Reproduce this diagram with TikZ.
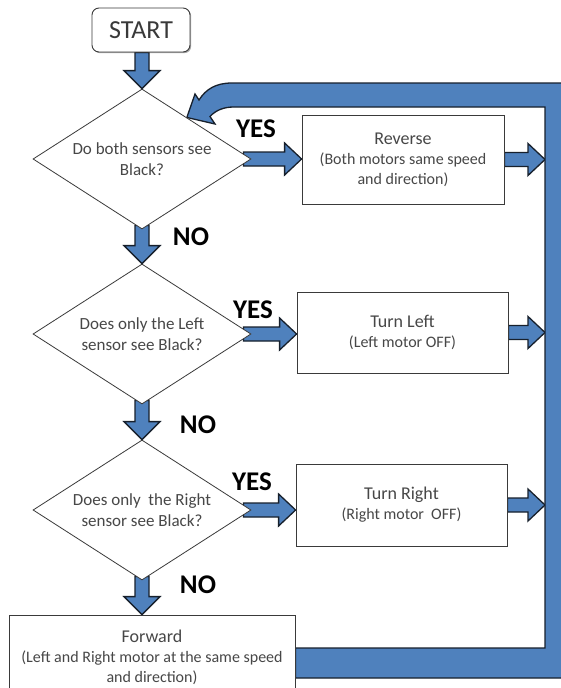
\documentclass[tikz,border=0pt]{standalone}
\usepackage{fontspec}
\setmainfont{Carlito}
\usetikzlibrary{shapes.geometric,calc,shadows}
\pgfdeclarelayer{background}
\pgfsetlayers{background,main}
\definecolor{ablue}{HTML}{4F81BD}
\definecolor{aline}{HTML}{17202C}
\definecolor{boxline}{HTML}{3A3A3A}
\definecolor{txt}{HTML}{474747}
\newcommand\vblk[2]{\path[blockarrow] let \p1=(#1), \p2=(#2) in
  (\x2,\y2) -- (\x2-18pt,\y2+18pt) -- (\x2-7pt,\y2+18pt) -- (\x2-7pt,\y1)
  -- (\x2+7pt,\y1) -- (\x2+7pt,\y2+18pt) -- (\x2+18pt,\y2+18pt) -- cycle;}
\newcommand\hblk[2]{\path[blockarrow] let \p1=(#1), \p2=(#2) in
  (\x2,\y2) -- (\x2-17pt,\y2+16pt) -- (\x2-17pt,\y2+7pt) -- (\x1,\y2+7pt)
  -- (\x1,\y2-7pt) -- (\x2-17pt,\y2-7pt) -- (\x2-17pt,\y2-16pt) -- cycle;}
\begin{document}
\begin{tikzpicture}[x=1pt,y=-1pt,
  blockarrow/.style={fill=ablue, draw=aline, line width=1.3pt, line join=miter},
  box/.style={rectangle, draw=boxline, line width=0.8pt, fill=white, inner sep=0pt,
    text=txt, align=center, font=\fontsize{16}{20}\selectfont,
    drop shadow={shadow xshift=1.2pt, shadow yshift=-1.2pt, opacity=0.35, fill=black}},
  dec/.style={diamond, draw=boxline, line width=0.8pt, fill=white, inner sep=0pt,
    shape aspect=1.56, minimum width=218pt, minimum height=140pt,
    text=txt, align=center, font=\fontsize{17}{21}\selectfont},
  startbox/.style={rectangle, rounded corners=7pt, draw=boxline, line width=0.9pt,
    fill=white, minimum width=98pt, minimum height=44pt, inner sep=0pt,
    text=txt!80!black, font=\fontsize{26}{30}\selectfont,
    drop shadow={shadow xshift=1.2pt, shadow yshift=-1.2pt, opacity=0.35, fill=black}},
  yesno/.style={font=\bfseries\fontsize{27}{30}\selectfont, text=black, inner sep=0pt}]
\useasboundingbox (0,0) rectangle (561,688);

% nodes
\node[startbox] (start) at (141,30) {START};
\node[dec] (d1) at (142,159) {Do both sensors see\\Black?};
\node[dec] (d2) at (142,334) {Does only the Left\\sensor see Black?};
\node[dec] (d3) at (142,510) {Does only\ \ the Right\\sensor see Black?};
\node[box, minimum width=202pt, minimum height=89pt] (rev) at (403,159.5)
  {{\fontsize{18}{20}\selectfont Reverse}\\(Both motors same speed\\and direction)};
\node[box, minimum width=211pt, minimum height=81pt] (tl) at (402.5,332.5)
  {{\fontsize{18}{20}\selectfont Turn Left}\\(Left motor OFF)};
\node[box, minimum width=211pt, minimum height=82pt] (tr) at (401.5,505)
  {{\fontsize{18}{20}\selectfont Turn Right}\\(Right motor\ \ OFF)};
\node[box, minimum width=286pt, minimum height=84pt] (fwd) at (152,657)
  {{\fontsize{18}{20}\selectfont Forward}\\(Left and Right motor at the same speed\\and direction)};

\node[yesno] (y1) at (256,128.5) {YES};
\node[yesno] (y2) at (253,309.5) {YES};
\node[yesno] (y3) at (252,482) {YES};
\node[yesno] (n1) at (191,237) {NO};
\node[yesno] (n2) at (198,425) {NO};
\node[yesno] (n3) at (198,585) {NO};

\coordinate (barin) at (545,107);
\coordinate (ltip) at ($(d1.north)!0.41!(d1.east)$);
\path (fwd.east) ++(0,-9) coordinate (lbt) ++(0,30) coordinate (lbb);

\begin{pgfonlayer}{background}
  \fill[white] (0,0) rectangle (561,688);
  % vertical arrows
  \vblk{start.south}{d1.north}
  \vblk{$(d1.south)+(0,-4)$}{d2.north}
  \vblk{$(d2.south)+(0,-4)$}{d3.north}
  \vblk{$(d3.south)+(0,-4)$}{d3.south |- fwd.north}
  % YES arrows
  \hblk{$(d1.east)+(-8,0)$}{rev.west |- d1.east}
  \hblk{$(d2.east)+(-8,0)$}{tl.west |- d2.east}
  \hblk{$(d3.east)+(-8,0)$}{tr.west |- d3.east}
  % arrows into the return bar
  \hblk{rev.east}{rev.east -| barin}
  \hblk{tl.east}{tl.east -| barin}
  \hblk{tr.east}{tr.east -| barin}
  % big return arrow
  \path[blockarrow] (ltip) -- (195,94) -- (199,100)
    .. controls (206,89) and (216,83) .. (232,83)
    -- (575,83) -- (575,678) -- (lbb) -- (lbt) -- (barin |- lbt) -- (barin)
    -- (234,107) .. controls (224,107) and (216,110) .. (210,116.5)
    -- (215,124) -- cycle;
\end{pgfonlayer}
\end{tikzpicture}
\end{document}
